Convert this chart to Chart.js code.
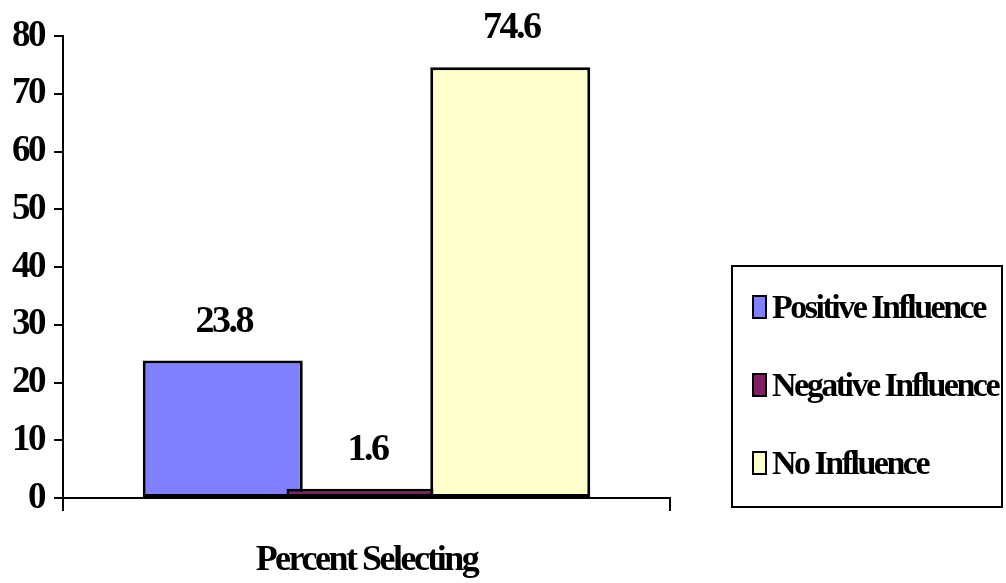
<!DOCTYPE html>
<html>
<head>
<meta charset="utf-8">
<title>Percent Selecting</title>
<script src="https://cdn.jsdelivr.net/npm/chart.js@4"></script>
<style>
  html, body { margin: 0; padding: 0; background: #fff; }
  #wrap { position: relative; width: 1006px; height: 583px; overflow: hidden; background: #fff; }
  #chart { position: absolute; left: 0; top: 0; }
  #legend {
    position: absolute; left: 731px; top: 265px;
    width: 268px; height: 239px; border: 2px solid #000;
  }
  .item {
    position: absolute; left: 19px; height: 24px;
    display: flex; align-items: center; white-space: nowrap;
  }
  .swatch { width: 11px; height: 20px; border: 2px solid #000; flex: none; }
  .label {
    margin-left: 5px; font-family: "Liberation Serif", "Times New Roman", serif;
    font-weight: bold; font-size: 34px; letter-spacing: -2.5px; line-height: 24px; color: #000;
  }
</style>
</head>
<body>
<div id="wrap">
  <canvas id="chart" width="1006" height="583"></canvas>
  <div id="legend"></div>
</div>
<script>
// Category and series
const categories = ['Percent Selecting'];
const seriesNames = ['Positive Influence', 'Negative Influence', 'No Influence'];
const positiveInfluence = [23.8];
const negativeInfluence = [1.6];
const noInfluence = [74.6];
const yTickValues = [0, 10, 20, 30, 40, 50, 60, 70, 80];

const seriesValues = [positiveInfluence, negativeInfluence, noInfluence];
const seriesColors = ['#8080FF', '#802060', '#FFFFCC'];

const serif = 'Liberation Serif';

// Bars are drawn left to right so each one sits over its left neighbour,
// then each value is written above its bar.
const layeredBars = {
  id: 'layeredBars',
  beforeDatasetsDraw(chart) {
    const ctx = chart.ctx;
    chart.data.datasets.forEach((ds, i) => {
      const meta = chart.getDatasetMeta(i);
      if (!meta.hidden) meta.controller.draw();
    });
    ctx.save();
    ctx.font = 'bold 38px "' + serif + '"';
    ctx.fillStyle = '#000';
    ctx.textAlign = 'center';
    ctx.textBaseline = 'alphabetic';
    chart.data.datasets.forEach((ds, i) => {
      const meta = chart.getDatasetMeta(i);
      meta.data.forEach((bar, j) => {
        ctx.fillText(String(ds.data[j]), bar.x + 1, bar.y - 29);
      });
    });
    ctx.restore();
    return false;
  }
};

// Tight letter spacing for all text drawn on the canvas
const tightText = {
  id: 'tightText',
  beforeDraw(chart) { chart.ctx.letterSpacing = '-2.5px'; },
  afterDraw(chart) { chart.ctx.letterSpacing = '0px'; }
};

const chart = new Chart(document.getElementById('chart'), {
  type: 'bar',
  data: {
    labels: categories,
    datasets: seriesNames.map((name, i) => ({
      label: name,
      data: seriesValues[i],
      backgroundColor: seriesColors[i],
      borderColor: '#000',
      borderWidth: 3,
      borderSkipped: false,
      barPercentage: 1.113,
      categoryPercentage: 0.7105
    }))
  },
  options: {
    responsive: false,
    devicePixelRatio: 1,
    animation: false,
    events: [],
    layout: { padding: { top: 36, right: 336, bottom: 0, left: 0 } },
    plugins: { legend: { display: false }, tooltip: { enabled: false } },
    scales: {
      x: {
        type: 'category',
        offset: true,
        grid: { display: true, offset: true, drawOnChartArea: false, drawTicks: true, tickLength: 13, color: '#000', lineWidth: 2 },
        border: { display: true, color: '#000', width: 2 },
        ticks: { color: '#000', padding: 28, font: { family: serif, size: 36, weight: 'bold' }, maxRotation: 0 },
        afterFit(scale) { scale.height = 85; }
      },
      y: {
        min: 0,
        max: 80,
        grid: { display: true, drawOnChartArea: false, drawTicks: true, tickLength: 9, color: '#000', lineWidth: 2 },
        border: { display: true, color: '#000', width: 2 },
        ticks: { color: '#000', padding: 10, font: { family: serif, size: 37, weight: 'bold' } },
        afterBuildTicks(scale) { scale.ticks = yTickValues.map(v => ({ value: v })); },
        afterFit(scale) { scale.width = 63; }
      }
    }
  },
  plugins: [tightText, layeredBars]
});

// Legend built from the same series names and colours
const legend = document.getElementById('legend');
chart.data.datasets.forEach((ds, i) => {
  const item = document.createElement('div');
  item.className = 'item';
  item.style.top = (28 + i * 78) + 'px';
  const sw = document.createElement('span');
  sw.className = 'swatch';
  sw.style.background = ds.backgroundColor;
  const tx = document.createElement('span');
  tx.className = 'label';
  tx.textContent = ds.label;
  item.appendChild(sw);
  item.appendChild(tx);
  legend.appendChild(item);
});
</script>
</body>
</html>
